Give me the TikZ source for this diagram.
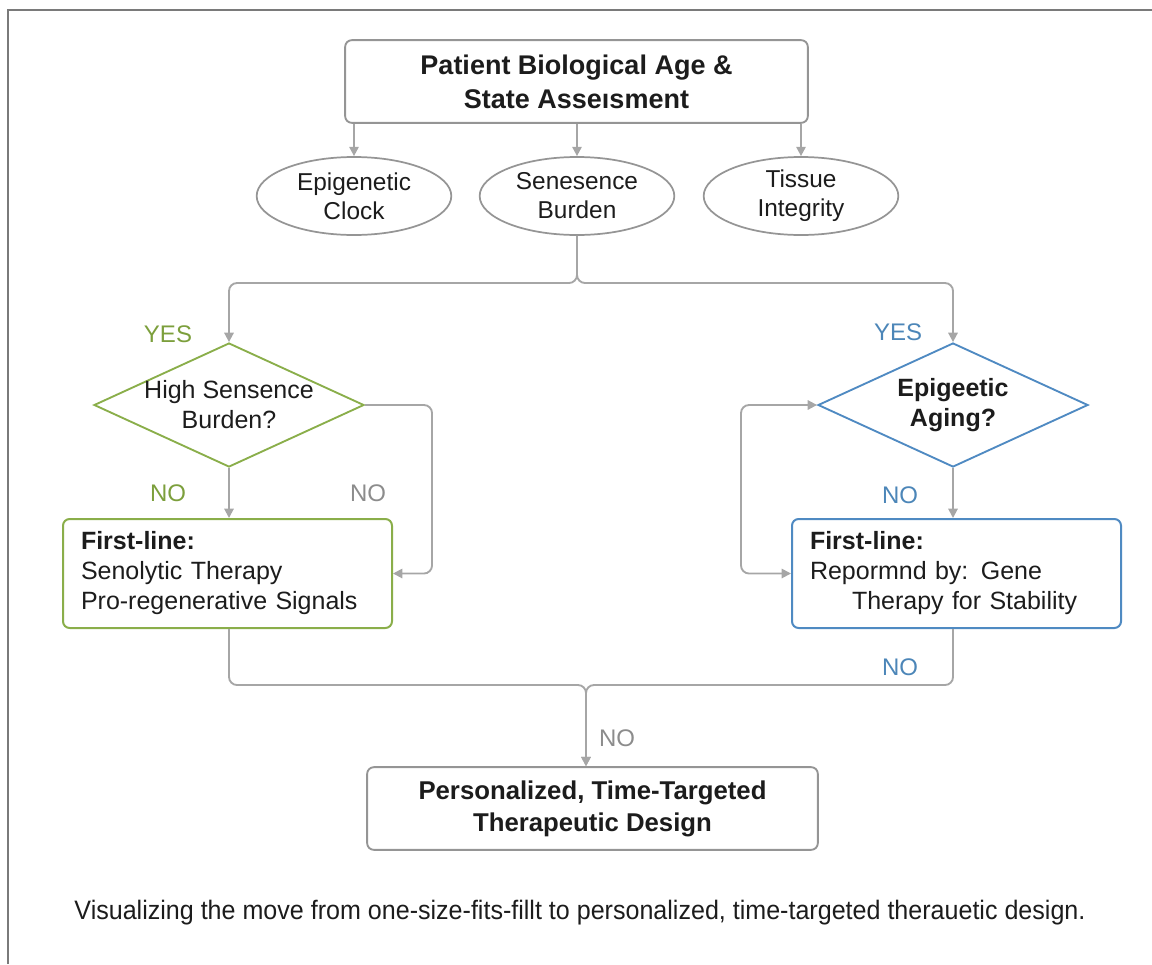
\documentclass[tikz,border=0pt]{standalone}
\usepackage{fontspec}
\setmainfont{Liberation Sans}
\newfontfamily\captionfont[FakeStretch=0.94]{Liberation Sans}
\usepackage{tikz}
\usetikzlibrary{arrows.meta, positioning, shapes.geometric, calc}

\definecolor{linegray}{HTML}{A6A6A6}
\definecolor{boxgray}{HTML}{959595}
\definecolor{framegray}{HTML}{7A7A7A}
\definecolor{leafgreen}{HTML}{8AAE4A}
\definecolor{yesgreen}{HTML}{7C9F3C}
\definecolor{stateblue}{HTML}{4F8AC2}
\definecolor{yesblue}{HTML}{4C86B8}
\definecolor{nogray}{HTML}{8C8C8C}
\definecolor{inkblack}{HTML}{1C1C1C}

\begin{document}
\begin{tikzpicture}[x=0.75pt, y=-0.75pt,
  conn/.style={draw=linegray, line width=1.4pt, rounded corners=6pt, -{Triangle[length=7pt,width=7pt]}},
  headbox/.style={draw=boxgray, line width=1.4pt, rounded corners=5pt, align=center, text=inkblack, inner sep=0pt},
  measure/.style={ellipse, draw=boxgray, line width=1.3pt, minimum width=146pt, minimum height=58.5pt, inner sep=0pt, align=center, text=inkblack, font=\fontsize{18.3}{21.75}\selectfont},
  query/.style={diamond, line width=1.4pt, aspect=2.18, inner sep=-3pt, minimum width=202.5pt, minimum height=93pt, align=center, text=inkblack},
  therapy/.style={rectangle, line width=1.5pt, rounded corners=5pt, minimum height=81.75pt, text width=219.75pt, inner xsep=13.5pt, align=left, text=inkblack, font=\fontsize{18.75}{22.5}\selectfont},
  answer/.style={font=\fontsize{18}{20}\selectfont}
]
\useasboundingbox (0,0) rectangle (1152,964);

% frame
\draw[framegray, line width=1.5pt] (8,964) -- (8,10) -- (1152,10);

% assessment
\node[headbox, minimum width=347pt, minimum height=62pt, font=\bfseries\fontsize{20.25}{25.5}\selectfont] (assess) at (576.5,81.5) {Patient Biological Age \&\\State Asseısment};

\node[measure] (clock) at (354,196) {Epigenetic\\Clock};
\node[measure] (burden) at (577,196) {Senesence\\Burden};
\node[measure] (tissue) at (801,196) {Tissue\\Integrity};

\foreach \m in {clock, burden, tissue}
  \draw[conn] (assess.south -| \m.north) -- (\m.north);

% decisions
\node[query, draw=leafgreen, font=\fontsize{18.75}{22.5}\selectfont] (senq) at (229,405) {High Sensence\\Burden?};
\node[query, draw=stateblue, font=\bfseries\fontsize{18.75}{22.5}\selectfont] (epiq) at (953,405) {Epigeetic\\Aging?};

\coordinate (fork) at (577,283);
\draw[conn] (burden.south) -- (fork) -| (senq.north);
\draw[conn] (burden.south) -- (fork) -| (epiq.north);

\node[answer, text=yesgreen] (yesl) at (168,334) {YES};
\node[answer, text=yesblue] (yesr) at (898,332) {YES};

% first-line boxes
\node[therapy, draw=leafgreen] (senobox) at (227.5,573.5) {\textbf{First-line:}\\Senolytic Therapy\\Pro-regenerative Signals};
\node[therapy, draw=stateblue] (genebox) at (956.5,573.5) {\textbf{First-line:}\\Repormnd by: Gene\\\hspace*{31.5pt}Therapy for Stability};

\draw[conn] (senq.south) -- (senq.south |- senobox.north);
\draw[conn] (epiq.south) -- (epiq.south |- genebox.north);

\coordinate (sidel) at (432,0);
\coordinate (sider) at (741,0);
\draw[conn] (senq.east) -| (sidel |- senobox.east) -- (senobox.east);
\draw[conn, {Triangle[length=7pt,width=7pt]}-{Triangle[length=7pt,width=7pt]}] (epiq.west) -| (sider |- genebox.west) -- (genebox.west);

\node[answer, text=yesgreen] (nol) at (168,493) {NO};
\node[answer, text=nogray] (noside) at (368,493) {NO};
\node[answer, text=yesblue] (nor) at (900,495) {NO};

% merge to design
\node[headbox, minimum width=338pt, minimum height=62pt, font=\bfseries\fontsize{19.3}{24}\selectfont] (design) at (592.5,808.5) {Personalized, Time-Targeted\\Therapeutic Design};

\coordinate (merge) at (586,685);
\draw[conn] (senobox.south -| senq.south) |- (merge) -- (merge |- design.north);
\draw[conn] (genebox.south -| epiq.south) |- (merge) -- (merge |- design.north);

\node[answer, text=yesblue] (nomerge) at (900,667) {NO};
\node[answer, text=nogray] (nodesign) at (617,738) {NO};

% caption
\node[text=inkblack, font=\captionfont\fontsize{20}{22}\selectfont] (caption) at (580,913) {Visualizing the move from one-size-fits-fillt to personalized, time-targeted therauetic design.};
\end{tikzpicture}
\end{document}
